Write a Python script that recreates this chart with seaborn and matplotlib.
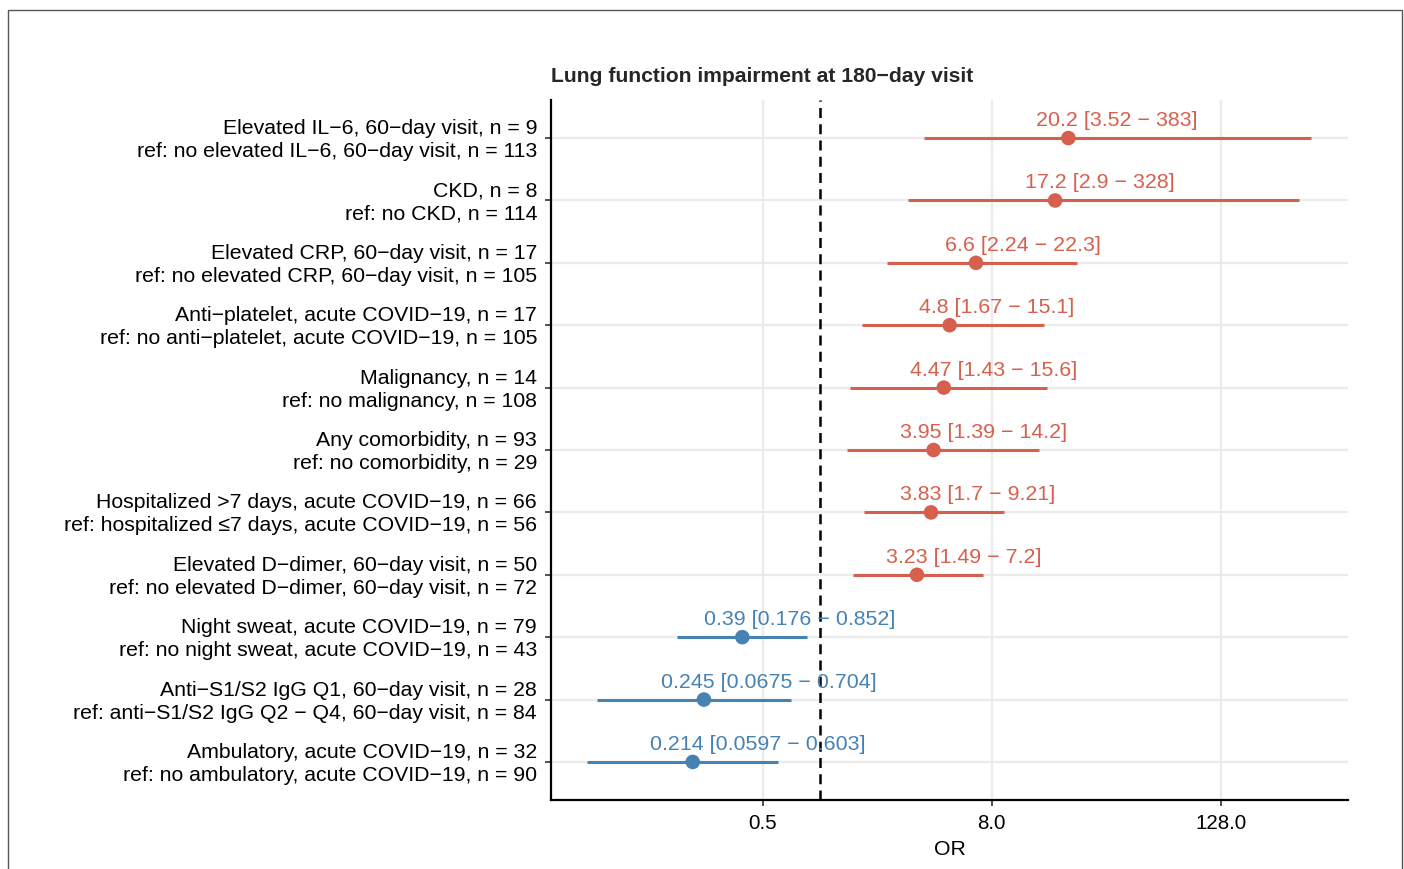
import numpy as np
import pandas as pd
import seaborn as sns
import matplotlib
matplotlib.use("Agg")
import matplotlib.pyplot as plt
from matplotlib.transforms import ScaledTranslation
from matplotlib.patches import Rectangle

labels = [
    "Elevated IL\u22126, 60\u2212day visit, n = 9\nref: no elevated IL\u22126, 60\u2212day visit, n = 113",
    "CKD, n = 8\nref: no CKD, n = 114",
    "Elevated CRP, 60\u2212day visit, n = 17\nref: no elevated CRP, 60\u2212day visit, n = 105",
    "Anti\u2212platelet, acute COVID\u221219, n = 17\nref: no anti\u2212platelet, acute COVID\u221219, n = 105",
    "Malignancy, n = 14\nref: no malignancy, n = 108",
    "Any comorbidity, n = 93\nref: no comorbidity, n = 29",
    "Hospitalized >7 days, acute COVID\u221219, n = 66\nref: hospitalized \u22647 days, acute COVID\u221219, n = 56",
    "Elevated D\u2212dimer, 60\u2212day visit, n = 50\nref: no elevated D\u2212dimer, 60\u2212day visit, n = 72",
    "Night sweat, acute COVID\u221219, n = 79\nref: no night sweat, acute COVID\u221219, n = 43",
    "Anti\u2212S1/S2 IgG Q1, 60\u2212day visit, n = 28\nref: anti\u2212S1/S2 IgG Q2 \u2212 Q4, 60\u2212day visit, n = 84",
    "Ambulatory, acute COVID\u221219, n = 32\nref: no ambulatory, acute COVID\u221219, n = 90",
]
odds = [20.2, 17.2, 6.6, 4.8, 4.47, 3.95, 3.83, 3.23, 0.39, 0.245, 0.214]
lower = [3.52, 2.9, 2.24, 1.67, 1.43, 1.39, 1.7, 1.49, 0.176, 0.0675, 0.0597]
upper = [383, 328, 22.3, 15.1, 15.6, 14.2, 9.21, 7.2, 0.852, 0.704, 0.603]
annot = ["20.2 [3.52 \u2212 383]", "17.2 [2.9 \u2212 328]", "6.6 [2.24 \u2212 22.3]",
         "4.8 [1.67 \u2212 15.1]", "4.47 [1.43 \u2212 15.6]", "3.95 [1.39 \u2212 14.2]",
         "3.83 [1.7 \u2212 9.21]", "3.23 [1.49 \u2212 7.2]", "0.39 [0.176 \u2212 0.852]",
         "0.245 [0.0675 \u2212 0.704]", "0.214 [0.0597 \u2212 0.603]"]
xticks = [0.5, 8.0, 128.0]
xticklabels = ["0.5", "8.0", "128.0"]

RED = "#D6604D"
BLUE = "#4682B4"

df = pd.DataFrame({"label": labels, "OR": odds, "lo": lower, "hi": upper, "annot": annot})
df["pos"] = np.arange(len(df))
df["dir"] = np.where(df["OR"] > 1, "up", "down")

sns.set_theme(style="white")
plt.rcParams["font.family"] = ["Liberation Sans", "DejaVu Sans"]

fig = plt.figure(figsize=(14.04, 8.69), dpi=100)
ax = fig.add_axes([551/1404, 1 - 800/869, (1348-551)/1404, (800-100)/869])

# border
fig.patches.append(Rectangle((8/1404, -0.05), (1402-8)/1404, 1.05 - 10/869,
                             transform=fig.transFigure, fill=False,
                             edgecolor="#555555", linewidth=1.0))

ax.set_xscale("log", base=2)
ax.set_xlim(2**-4.70, 2**9.22)
ax.set_ylim(10.61, -0.61)

# gridlines
for t in xticks:
    ax.axvline(t, color="#EBEBEB", lw=1.6, zorder=0)
for p in df["pos"]:
    ax.axhline(p, color="#EBEBEB", lw=1.6, zorder=0)

ax.axvline(1, color="black", ls=(0, (4, 2.5)), lw=1.8, zorder=1)

colors = [RED if d == "up" else BLUE for d in df["dir"]]
ax.hlines(df["pos"], df["lo"], df["hi"], colors=colors, lw=2.2, zorder=2)
sns.scatterplot(data=df, x="OR", y="pos", hue="dir", palette={"up": RED, "down": BLUE},
                s=110, edgecolor="none", legend=False, ax=ax, zorder=3)

ax.set_yticks(df["pos"])
ax.set_yticklabels(df["label"], fontsize=15.3, color="black", linespacing=1.27, va="center")
ax.set_xticks(xticks)
ax.set_xticklabels(xticklabels, fontsize=14.8, color="black")
ax.minorticks_off()
ax.set_xlabel("OR", fontsize=15.3, color="black", labelpad=5)
ax.set_ylabel("")

for s in ["top", "right"]:
    ax.spines[s].set_visible(False)
for s in ["left", "bottom"]:
    ax.spines[s].set_color("black")
    ax.spines[s].set_linewidth(1.6)
ax.tick_params(axis="y", which="major", length=4, width=1.2, color="#333333",
               direction="out", pad=6, left=True)
ax.tick_params(axis="x", which="major", length=4, width=1.2, color="#333333",
               direction="out", pad=6, bottom=True)
ax.grid(False)

# nudge y tick labels slightly down
shift = ScaledTranslation(0, -2 / fig.dpi, fig.dpi_scale_trans)
for lbl in ax.get_yticklabels():
    lbl.set_transform(lbl.get_transform() + shift)

ax.set_title("Lung function impairment at 180\u2212day visit", fontsize=15.2,
             fontweight="bold", loc="left", pad=13)

renderer = fig.canvas.get_renderer()
for _, r in df.iterrows():
    col = RED if r["dir"] == "up" else BLUE
    t = ax.text(r["OR"], r["pos"], r["annot"], color=col, fontsize=15.4,
                ha="left", va="bottom", zorder=4)
    w = t.get_window_extent(renderer).width
    t.set_transform(ax.transData + ScaledTranslation(-0.2 * w / fig.dpi, 8 / fig.dpi,
                                                     fig.dpi_scale_trans))

fig.savefig("out.png", dpi=100)
